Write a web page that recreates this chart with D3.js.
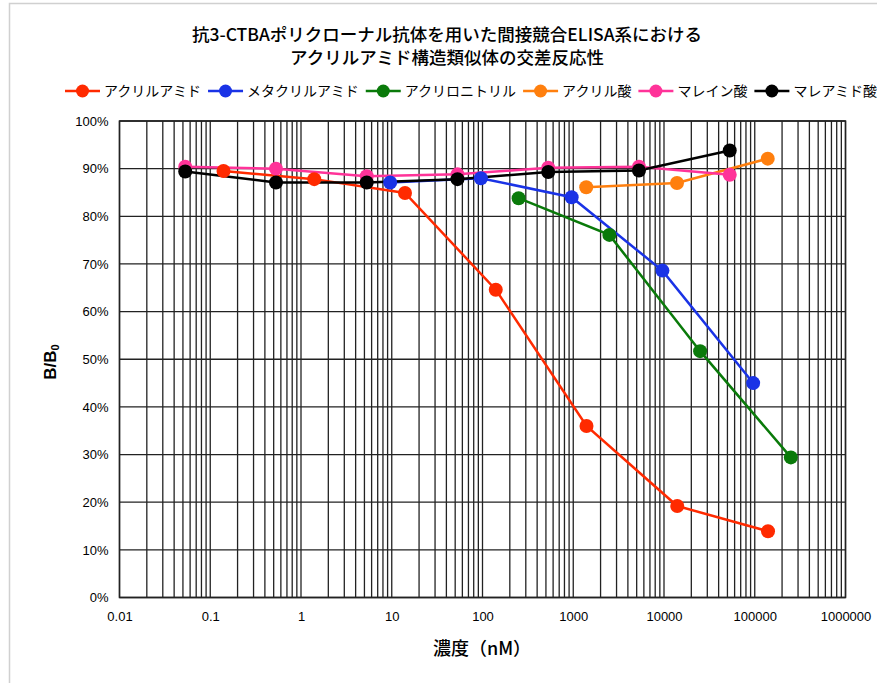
<!DOCTYPE html>
<html>
<head>
<meta charset="utf-8">
<script src="https://cdn.jsdelivr.net/npm/d3@7"></script>
<style>
  body { margin: 0; background: #fff; }
  text { font-family: "Liberation Sans", Arial, sans-serif; }
  .jp { font-family: "Noto Sans CJK JP", sans-serif; }
</style>
</head>
<body>
<script>
// chart values
var xTicks = [0.01, 0.1, 1, 10, 100, 1000, 10000, 100000, 1000000];
var yTicks = [0, 0.1, 0.2, 0.3, 0.4, 0.5, 0.6, 0.7, 0.8, 0.9, 1.0];

var seriesNames = ["アクリルアミド", "メタクリルアミド", "アクリロニトリル", "アクリル酸", "マレイン酸", "マレアミド酸"];
var seriesColors = ["#ff2a00", "#1a33e6", "#0a7a0a", "#ff7f0e", "#ff3399", "#000000"];

var acrylamideX = [0.14, 1.4, 14, 140, 1400, 14000, 140000];
var acrylamideY = [0.895, 0.878, 0.849, 0.646, 0.360, 0.192, 0.139];

var methacrylamideX = [9.6, 96, 960, 9600, 96000];
var methacrylamideY = [0.871, 0.880, 0.840, 0.686, 0.450];

var acrylonitrileX = [250, 2500, 25000, 250000];
var acrylonitrileY = [0.838, 0.761, 0.517, 0.294];

var acrylicAcidX = [1390, 13900, 139000];
var acrylicAcidY = [0.861, 0.870, 0.921];

var maleicAcidX = [0.053, 0.53, 5.3, 53, 530, 5300, 53000];
var maleicAcidY = [0.904, 0.900, 0.884, 0.888, 0.902, 0.904, 0.887];

var maleamicAcidX = [0.053, 0.53, 5.3, 53, 530, 5300, 53000];
var maleamicAcidY = [0.894, 0.871, 0.871, 0.878, 0.893, 0.896, 0.938];

var seriesX = [acrylamideX, methacrylamideX, acrylonitrileX, acrylicAcidX, maleicAcidX, maleamicAcidX];
var seriesY = [acrylamideY, methacrylamideY, acrylonitrileY, acrylicAcidY, maleicAcidY, maleamicAcidY];

function drawChart() {
    var width = 877, height = 683;
    var plotLeft = 119.5, plotRight = 845.5, plotTop = 121, plotBottom = 597.5;

    var svg = d3.select("body").append("svg")
        .attr("width", width)
        .attr("height", height);

    // outer chart frame (cut by the window on right and bottom)
    svg.append("rect")
        .attr("x", 9.5).attr("y", 3.5)
        .attr("width", 900).attr("height", 700)
        .attr("fill", "#fff")
        .attr("stroke", "#d0d0d0")
        .attr("stroke-width", 1.5);

    var x = d3.scaleLog().domain([0.01, 1000000]).range([plotLeft, plotRight]);
    var y = d3.scaleLinear().domain([0, 1]).range([plotBottom, plotTop]);

    // vertical grid, every minor step of each decade
    var gridX = [];
    for (var d = 0.01; d < 1000000; d *= 10) {
        for (var k = 1; k <= 9; k++) gridX.push(d * k);
    }
    gridX.push(1000000);

    svg.append("g").selectAll("line")
        .data(gridX)
        .enter().append("line")
        .attr("x1", function(d) { return x(d); })
        .attr("x2", function(d) { return x(d); })
        .attr("y1", plotTop).attr("y2", plotBottom)
        .attr("stroke", "#222")
        .attr("stroke-width", 1.3);

    svg.append("g").selectAll("line")
        .data(yTicks)
        .enter().append("line")
        .attr("x1", plotLeft).attr("x2", plotRight)
        .attr("y1", function(d) { return y(d); })
        .attr("y2", function(d) { return y(d); })
        .attr("stroke", "#222")
        .attr("stroke-width", 1.3);

    svg.append("rect")
        .attr("x", plotLeft).attr("y", plotTop)
        .attr("width", plotRight - plotLeft).attr("height", plotBottom - plotTop)
        .attr("fill", "none")
        .attr("stroke", "#222")
        .attr("stroke-width", 1.5);

    // axes (labels only)
    var xAxis = d3.axisBottom(x)
        .tickValues(xTicks)
        .tickSize(0)
        .tickPadding(14)
        .tickFormat(function(d) { return String(d); });
    var gx = svg.append("g")
        .attr("transform", "translate(0," + plotBottom + ")")
        .call(xAxis);
    gx.select(".domain").remove();
    gx.selectAll("text").attr("font-size", 13).attr("fill", "#000")
        .style("font-family", "'Liberation Sans', Arial, sans-serif");

    var yAxis = d3.axisLeft(y)
        .tickValues(yTicks)
        .tickSize(0)
        .tickPadding(11)
        .tickFormat(d3.format(".0%"));
    var gy = svg.append("g")
        .attr("transform", "translate(" + plotLeft + ",0)")
        .call(yAxis);
    gy.select(".domain").remove();
    gy.selectAll("text").attr("font-size", 13).attr("fill", "#000")
        .style("font-family", "'Liberation Sans', Arial, sans-serif");

    // series
    var line = d3.line()
        .x(function(d) { return x(d[0]); })
        .y(function(d) { return y(d[1]); });

    var series = seriesNames.map(function(name, i) {
        return {
            name: name,
            color: seriesColors[i],
            values: seriesX[i].map(function(v, j) { return [v, seriesY[i][j]]; })
        };
    });

    series.forEach(function(s) {
        svg.append("path")
            .datum(s.values)
            .attr("d", line)
            .attr("fill", "none")
            .attr("stroke", s.color)
            .attr("stroke-width", 2.5);
    });

    series.forEach(function(s) {
        svg.append("g").selectAll("circle")
            .data(s.values)
            .enter().append("circle")
            .attr("cx", function(d) { return x(d[0]); })
            .attr("cy", function(d) { return y(d[1]); })
            .attr("r", 7)
            .attr("fill", s.color);
    });

    // title
    var title = svg.append("text")
        .attr("class", "jp")
        .attr("text-anchor", "middle")
        .attr("font-size", 17.5)
        .attr("font-weight", 500)
        .attr("fill", "#000");
    title.append("tspan").attr("x", 447).attr("y", 41)
        .text("抗3-CTBAポリクローナル抗体を用いた間接競合ELISA系における");
    title.append("tspan").attr("x", 447).attr("y", 64)
        .text("アクリルアミド構造類似体の交差反応性");

    // legend
    var lx = 65, ly = 91;
    series.forEach(function(s) {
        var g = svg.append("g").attr("transform", "translate(" + lx + "," + ly + ")");
        g.append("line")
            .attr("x1", 0).attr("x2", 35)
            .attr("stroke", s.color).attr("stroke-width", 2.5);
        g.append("circle")
            .attr("cx", 17.5).attr("r", 6.5)
            .attr("fill", s.color);
        var t = g.append("text")
            .attr("class", "jp")
            .attr("x", 39).attr("y", 5)
            .attr("font-size", 14)
            .attr("fill", "#000")
            .text(s.name);
        lx += 39 + t.node().getComputedTextLength() + 7;
    });

    // axis titles
    svg.append("text")
        .attr("class", "jp")
        .attr("x", 482).attr("y", 655)
        .attr("text-anchor", "middle")
        .attr("font-size", 18)
        .attr("font-weight", 500)
        .attr("fill", "#000")
        .text("濃度（nM）");

    var yl = svg.append("text")
        .attr("transform", "translate(56,362) rotate(-90)")
        .attr("text-anchor", "middle")
        .attr("font-size", 17)
        .attr("font-weight", "bold")
        .attr("fill", "#000");
    yl.append("tspan").text("B/B");
    yl.append("tspan").attr("font-size", 11).attr("dy", 3).text("0");
}

drawChart();
</script>
</body>
</html>
